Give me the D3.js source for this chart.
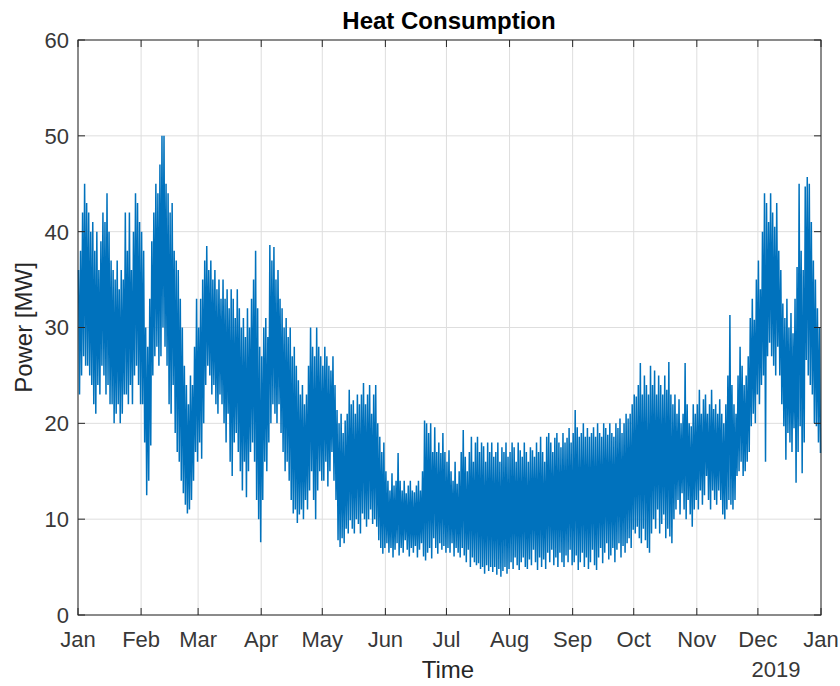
<!DOCTYPE html>
<html lang="en">
<head>
<meta charset="UTF-8">
<title>Heat Consumption</title>
<style>
body { margin: 0; background: #fff; }
text { font-family: "Liberation Sans", Arial, Helvetica, sans-serif; fill: #262626; }
.grid line { stroke: #dedede; stroke-width: 1; }
.frame { fill: none; stroke: #262626; stroke-width: 1; }
.tick-mark { stroke: #262626; stroke-width: 1; }
.series { fill: none; stroke: #0072bd; stroke-width: 1.5; stroke-linejoin: miter; }
</style>
</head>
<body>
<script src="https://d3js.org/d3.v7.min.js"></script>
<script>
// daily peak and trough, one line per month (2018)
var dailyMax = [
  36,38,42,45,43,42,40,41,38,40,36,39,42,41,44,40,37,36,35,37,34,36,35,42,38,42,36,40,44,43,41,
  40,38,30,28,33,39,42,45,44,47,50,50,45,44,42,43,38,37,36,33,30,26,24,22,25,24,28,33,
  30,33,35,37,38.5,36,37,35,36,34,35,33,35,33,34,32,34,33,31,34,32,30,31,29,32,30,33,35,38,32,28,
  27,30,31,29,38.6,37,38.4,35,36,33,32,30,31,29,30,27,28,26,24.5,23,24,22,23,26,30,28,27,30,28,27,
  26,28,27,26,25.5,27,24,21.4,20,21,19,20.3,21,23.5,22,22.4,21,23,22,23,24.2,22,23,24,21,23,24,20,18.6,17,18,
  15,14,13,14.8,13.5,14,16.9,14,13,14,12.7,13.5,14,13,12.8,13.5,14,13,15,20.3,20,19,20,17,19.6,17,18,16.9,19,17,
  16,17.2,15,14,16,13.7,15,17,19.3,16.5,15,17,18.6,16,18,18.6,17,18,17.6,16,18,17,18,16.5,17,18,16,17.5,17,18,16.5,
  17,18,17.5,16,18,17.2,16.5,18,17,16,17.5,17.2,16.5,18,17,18.6,17,16,18.6,19,18,17,18.5,19,18,17.5,19,18,18.5,19.5,18,
  19,21.4,19.6,18.6,19,20,18.6,19.5,18.6,19,19.6,18.6,20,19,18.6,20,19.5,18.8,20,19,18.6,20,19.5,20.5,19,20,21,20.5,21,22,
  23,22.8,24,26.3,23,25,24,23,26,24,25.5,23,25,24,23,25,23.5,26.4,23,22,23,21,22.5,20,21,26.3,22,20,19.7,22,21,
  22,23.5,21,22.5,23,21,22,23.5,21.5,22,21,22.5,21,20,22,25,31.3,24,22,21,25,28,26,24,25,27,31,33,30.8,35,
  37,34,40,44,43,41,44,42,40.5,43,38,36,32.5,31,33,30,31.5,29.4,33,36.3,45,38,36,44.7,45.7,45,41,37,35,32,30
];
var dailyMin = [
  23,25,27,26,26,25,24,22,21,24,23,26,25,23,24,22,22,20,21,22,20,21,23,23,22,24,22,25,26,24,22,
  22,18,12.5,14,17.7,25,27,28,26,27,30,28,26,22,21,24,19,17,16,14,12.7,11.5,10.6,11,12,14,17,16,
  18,16.3,20,24,26,25,23,24,22,21,23,22,20,18,21,16,14.5,18,19,17,15,13,16,12.3,15,17,18,16,12,10,7.6,
  12,16,15,18,20,22,21,20,22,19,17,15,16,14,12,10.6,11,9.6,10.5,11,10,12,11,13,15,12,10,13,15,14,
  14,16,13.4,15,17,14,12,7.8,7.1,8,7.5,9,8.5,9.9,9,8.5,10,9.5,8.5,10.6,10,9.2,10,11,9.5,10,9.2,7.8,7,6.4,7,
  7.5,6.5,7,6,6.8,7.5,6.2,7,6.5,7.8,6.8,6.1,7,6.5,7.2,6,6.8,7.5,6.1,5.7,6.5,7,5.9,8,7,6.4,7.5,6.8,7.2,6.5,
  7,6.5,7.5,6.1,7,6.5,6,7,6.2,5.5,6.8,5,6,5.5,5.2,5.4,4.8,5,4.3,5.2,4.6,5,4.5,5,4.2,4.8,4,4.6,5,4.3,4.8,
  5.5,4.8,6,5.2,4.7,5.5,6,5,4.8,5.8,5.2,6.8,5.5,4.7,6,5,5.8,4.8,6.5,5.5,6.8,5.2,6,5,6.5,5.5,5,6.2,5.5,6.8,5.2,
  5.5,6.2,4.7,5.5,6.5,5,6,4.8,5.5,6.8,5.2,4.7,6,7,5.4,6.5,7.5,5.8,6.2,7,5.5,6.8,7.5,6,7.2,6.5,7.5,8,7,8.9,
  8.5,9.2,8,7.5,9,7.8,7,6.5,8.5,10,9,11,8.5,9.5,10.5,8,9,8.2,7.5,10,11,12,10.5,12.7,11,10,12,10.5,9.2,11,12,
  11,13,11.5,12.5,14.5,12,11,13,12,11.5,13,12,10.5,10,11,12,11.5,11,12,14.5,15,16,14.5,15,16,17,19.7,21,20,23,
  22,24,25,16,27,28.4,27,26,25,28,25,22,19.7,16.2,19,18,17,19.5,13.8,17,19.7,14.8,18,26.6,25,24,23,20,19.7,18,16.9
];
var monthLabels = ["Jan","Feb","Mar","Apr","May","Jun","Jul","Aug","Sep","Oct","Nov","Dec","Jan"];
var yTicks = [0, 10, 20, 30, 40, 50, 60];

var width = 840, height = 686;
var margin = { top: 40, right: 19, bottom: 71, left: 78 };
var start = Date.UTC(2018, 0, 1), end = Date.UTC(2019, 0, 1);
var dayMs = 86400000;

var svg = d3.select("body").append("svg")
    .attr("width", width)
    .attr("height", height);

svg.append("rect").attr("width", width).attr("height", height).attr("fill", "#fff");

var x = d3.scaleUtc()
    .domain([new Date(start), new Date(end)])
    .range([margin.left, width - margin.right]);

var y = d3.scaleLinear()
    .domain([0, 60])
    .range([height - margin.bottom, margin.top]);

var monthTicks = d3.utcMonth.range(new Date(start), new Date(end + 1));

// grid
var grid = svg.append("g").attr("class", "grid");
grid.selectAll(".gx").data(monthTicks).enter().append("line")
    .attr("x1", function(d) { return x(d); }).attr("x2", function(d) { return x(d); })
    .attr("y1", y(0)).attr("y2", y(60));
grid.selectAll(".gy").data(yTicks).enter().append("line")
    .attr("x1", x.range()[0]).attr("x2", x.range()[1])
    .attr("y1", function(d) { return y(d); }).attr("y2", function(d) { return y(d); });

// series: hourly swing drawn as peak/trough zigzag per day
var points = [];
dailyMax.forEach(function(v, i) {
  points.push({ t: new Date(start + (i + 0.25) * dayMs), v: v });
  points.push({ t: new Date(start + (i + 0.75) * dayMs), v: dailyMin[i] });
});

var line = d3.line()
    .x(function(d) { return x(d.t); })
    .y(function(d) { return y(d.v); });

svg.append("path")
    .datum(points)
    .attr("class", "series")
    .attr("d", line);

// frame and ticks (ticks inward on all four sides)
svg.append("rect").attr("class", "frame")
    .attr("x", x.range()[0]).attr("y", y(60))
    .attr("width", x.range()[1] - x.range()[0])
    .attr("height", y(0) - y(60));

var tl = 7;
var ticks = svg.append("g");
monthTicks.forEach(function(d) {
  ticks.append("line").attr("class", "tick-mark")
      .attr("x1", x(d)).attr("x2", x(d)).attr("y1", y(0)).attr("y2", y(0) - tl);
  ticks.append("line").attr("class", "tick-mark")
      .attr("x1", x(d)).attr("x2", x(d)).attr("y1", y(60)).attr("y2", y(60) + tl);
});
yTicks.forEach(function(d) {
  ticks.append("line").attr("class", "tick-mark")
      .attr("x1", x.range()[0]).attr("x2", x.range()[0] + tl).attr("y1", y(d)).attr("y2", y(d));
  ticks.append("line").attr("class", "tick-mark")
      .attr("x1", x.range()[1]).attr("x2", x.range()[1] - tl).attr("y1", y(d)).attr("y2", y(d));
});

// tick labels
svg.append("g").selectAll("text").data(monthTicks).enter().append("text")
    .attr("x", function(d) { return x(d); })
    .attr("y", 647)
    .attr("text-anchor", "middle")
    .style("font-size", "22px")
    .style("fill", "#383838")
    .text(function(d, i) { return monthLabels[i]; });

svg.append("g").selectAll("text").data(yTicks).enter().append("text")
    .attr("x", 69)
    .attr("y", function(d) { return y(d); })
    .attr("dy", "0.36em")
    .attr("text-anchor", "end")
    .style("font-size", "22px")
    .style("fill", "#383838")
    .text(function(d) { return d; });

svg.append("text")
    .attr("x", 776).attr("y", 677)
    .attr("text-anchor", "middle")
    .style("font-size", "22px")
    .style("fill", "#383838")
    .text("2019");

// labels
svg.append("text")
    .attr("x", 448).attr("y", 678)
    .attr("text-anchor", "middle")
    .style("font-size", "24px")
    .text("Time");

svg.append("text")
    .attr("transform", "translate(32," + ((y(0) + y(60)) / 2) + ")rotate(-90)")
    .attr("text-anchor", "middle")
    .style("font-size", "24px")
    .text("Power [MW]");

svg.append("text")
    .attr("x", 449).attr("y", 29)
    .attr("text-anchor", "middle")
    .style("font-size", "24px")
    .style("font-weight", "bold")
    .style("fill", "#000")
    .text("Heat Consumption");
</script>
</body>
</html>
